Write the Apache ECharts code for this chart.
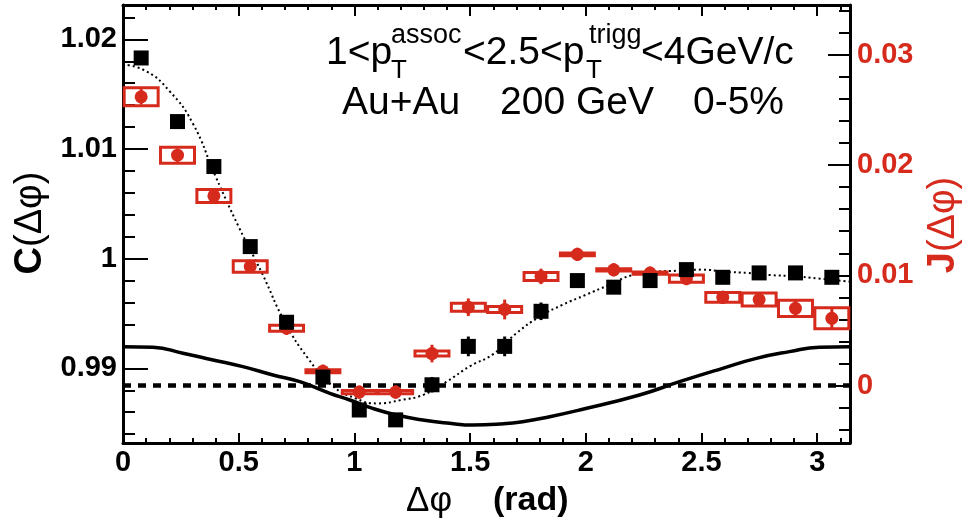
<!DOCTYPE html>
<html><head><meta charset="utf-8">
<script src="https://cdn.jsdelivr.net/npm/echarts@6/dist/echarts.min.js"></script>
<style>html,body{margin:0;padding:0;background:#fff}#c{width:969px;height:523px}</style>
</head><body><div id="c"></div>
<script>
// ---- data ----
const binCenters = [0.0785,0.2356,0.3927,0.5498,0.7069,0.8639,1.0210,1.1781,1.3352,1.4923,1.6493,1.8064,1.9635,2.1206,2.2777,2.4347,2.5918,2.7489,2.9060,3.0631];
const corrC     = [1.0183,1.0125,1.0084,1.0011,0.9942,0.9892,0.9862,0.9853,0.9885,0.9920,0.9920,0.9952,0.9980,0.9974,0.9980,0.9990,0.9983,0.9987,0.9987,0.9983];
const corrCErr  = [0.0006,0.0006,0.0006,0.0006,0.0006,0.0006,0.0006,0.0006,0.0007,0.0009,0.0009,0.0008,0.0006,0.0006,0.0006,0.0006,0.0006,0.0006,0.0006,0.0006];
const jetJ      = [0.0262,0.0209,0.0172,0.0108,0.0052,0.0013,-0.0006,-0.0006,0.0029,0.0071,0.0069,0.0099,0.0119,0.0105,0.0102,0.0097,0.0080,0.0078,0.0070,0.0061];
const jetJStat  = [0.0007,0.0006,0.0006,0.0006,0.0006,0.0006,0.0006,0.0006,0.0008,0.0008,0.0009,0.0007,0.0006,0.0006,0.0006,0.0006,0.0006,0.0006,0.0007,0.0009];
const jetJSys   = [0.00082,0.00073,0.00059,0.00053,0.00027,0.00014,0.00014,0.00014,0.00023,0.00036,0.00027,0.00036,0.00012,0.00010,0.00010,0.00032,0.00045,0.00059,0.00073,0.00095];
const fitX = [0,0.1,0.2,0.3,0.4,0.5,0.6,0.7,0.8,0.9,1.0,1.1,1.2,1.3,1.4,1.5,1.6,1.7,1.8,1.9,2.0,2.1,2.2,2.3,2.4,2.5,2.6,2.7,2.8,2.9,3.0,3.1416];
const fitC = [1.0177,1.0171,1.0153,1.0124,1.0075,1.0029,0.9987,0.9942,0.9909,0.9885,0.9873,0.9868,0.9871,0.9876,0.9888,0.9902,0.9913,0.9932,0.9947,0.9958,0.9967,0.9976,0.9985,0.9988,0.9989,0.9990,0.9988,0.9987,0.9985,0.9984,0.9982,0.9979];
const bgX = [0,0.130,0.259,0.389,0.518,0.648,0.764,0.894,0.980,1.079,1.182,1.295,1.412,1.511,1.628,1.727,1.844,1.973,2.232,2.405,2.591,2.737,2.880,3.010,3.1416];
const bgC = [0.99197,0.99192,0.99137,0.99076,0.99015,0.98939,0.98878,0.98772,0.98711,0.98635,0.98574,0.98529,0.98499,0.98483,0.98492,0.98513,0.98559,0.98620,0.98757,0.98878,0.99000,0.99091,0.99152,0.99192,0.99197];
const zeroX = [0, 3.1416];
const zeroJ = [0, 0];
const xTickLabels = ['0','0.5','1','1.5','2','2.5','3'];
const leftTickLabels = ['0.99','1','1.01','1.02'];
const rightTickLabels = ['0','0.01','0.02','0.03'];

const RED = '#d52a1c';
const FONT = '"Liberation Sans", Arial, sans-serif';

function fmt(list, step) {
  return function (v) {
    const k = Math.round(v / step);
    if (Math.abs(v - k * step) > step * 1e-3) return '';
    const s = list.find(t => Math.abs(parseFloat(t) - v) < step * 1e-3);
    return s === undefined ? '' : s;
  };
}

const chart = echarts.init(document.getElementById('c'), null, {renderer: 'canvas'});
const zip = (a, b, c) => a.map((v, i) => c ? [v, b[i], c[i]] : [v, b[i]]);

function boxItem(params, api) {
  const x = api.value(0), y = api.value(1), e = api.value(2);
  const hw = 0.0734;
  const p1 = api.coord([x - hw, y + e]);
  const p2 = api.coord([x + hw, y - e]);
  return {type: 'rect', shape: {x: p1[0], y: p1[1], width: p2[0] - p1[0], height: p2[1] - p1[1]},
          style: {fill: 'none', stroke: RED, lineWidth: 3}};
}
function errItem(color) {
  return function (params, api) {
    const x = api.value(0), y = api.value(1), e = api.value(2);
    const a = api.coord([x, y - e]), b = api.coord([x, y + e]);
    return {type: 'line', shape: {x1: a[0], y1: a[1], x2: b[0], y2: b[1]}, style: {stroke: color, lineWidth: 3}};
  };
}
function dashItem(params, api) {
  const a = api.coord([api.value(0), api.value(2)]);
  const b = api.coord([api.value(1), api.value(2)]);
  return {type: 'line', shape: {x1: a[0], y1: a[1], x2: b[0], y2: b[1]},
          style: {stroke: '#000', lineWidth: 4.5, lineDash: [8, 7], lineCap: 'butt'}};
}

const axisCommon = {
  axisLine: {show: true, onZero: false, lineStyle: {color: '#000', width: 3}},
  splitLine: {show: false}
};
const txt = (x, y, text, font, extra) => Object.assign({type: 'text', x: x, y: y,
  style: {text: text, font: font, fill: '#000', align: 'left', verticalAlign: 'middle', textAlign: 'left', textVerticalAlign: 'middle'}}, extra || {});

const option = {
  animation: false,
  backgroundColor: '#fff',
  grid: {left: 123, top: 5, width: 727, height: 438, containLabel: false},
  xAxis: [
    Object.assign({type: 'value', min: 0, max: 3.1416, interval: 0.5, position: 'bottom',
      axisTick: {inside: true, length: 10, lineStyle: {color: '#000', width: 2}},
      minorTick: {show: true, splitNumber: 5, length: 5, lineStyle: {color: '#000', width: 2}},
      axisLabel: {margin: 5, color: '#000', fontFamily: FONT, fontWeight: 'bold', fontSize: 29, formatter: fmt(xTickLabels, 0.5)}
    }, axisCommon),
    Object.assign({type: 'value', min: 0, max: 3.1416, interval: 0.5, position: 'top',
      axisTick: {inside: true, length: 11, lineStyle: {color: '#000', width: 2}},
      minorTick: {show: true, splitNumber: 5, length: 5, lineStyle: {color: '#000', width: 2}},
      axisLabel: {show: false}
    }, axisCommon)
  ],
  yAxis: [
    Object.assign({type: 'value', min: 0.98319, max: 1.02313, minInterval: 0.01, maxInterval: 0.01, position: 'left',
      axisTick: {inside: true, length: 25, lineStyle: {color: '#000', width: 2}},
      minorTick: {show: true, splitNumber: 5, length: 12, lineStyle: {color: '#000', width: 2}},
      axisLabel: {margin: 6, color: '#000', fontFamily: FONT, fontWeight: 'bold', fontSize: 29, formatter: fmt(leftTickLabels, 0.01)}
    }, axisCommon),
    Object.assign({type: 'value', min: -0.005218, max: 0.03453, minInterval: 0.01, maxInterval: 0.01, position: 'right',
      axisTick: {inside: true, length: 22, lineStyle: {color: '#000', width: 2}},
      minorTick: {show: true, splitNumber: 5, length: 11, lineStyle: {color: '#000', width: 2}},
      axisLabel: {margin: 7, color: RED, fontFamily: FONT, fontWeight: 'bold', fontSize: 29, formatter: fmt(rightTickLabels, 0.01)}
    }, axisCommon)
  ],
  series: [
    {type: 'line', xAxisIndex: 0, yAxisIndex: 0, data: zip(bgX, bgC), smooth: true, symbol: 'none', silent: true, z: 1,
     lineStyle: {color: '#000', width: 3.5}},
    {type: 'custom', xAxisIndex: 0, yAxisIndex: 1, data: [[zeroX[0], zeroX[1], zeroJ[0]]], renderItem: dashItem, silent: true, z: 1,
     encode: {x: [0, 1], y: 2}},
    {type: 'line', xAxisIndex: 0, yAxisIndex: 0, data: zip(fitX, fitC), smooth: true, symbol: 'none', silent: true, z: 2,
     lineStyle: {color: '#000', width: 2, type: [2, 3]}},
    {type: 'custom', xAxisIndex: 0, yAxisIndex: 1, data: zip(binCenters, jetJ, jetJSys), renderItem: boxItem, silent: true, z: 3,
     encode: {x: 0, y: 1}},
    {type: 'custom', xAxisIndex: 0, yAxisIndex: 1, data: zip(binCenters, jetJ, jetJStat), renderItem: errItem(RED), silent: true, z: 4,
     encode: {x: 0, y: 1}},
    {type: 'scatter', xAxisIndex: 0, yAxisIndex: 1, data: zip(binCenters, jetJ), symbol: 'circle', symbolSize: 13, silent: true, z: 5,
     itemStyle: {color: RED, opacity: 1}},
    {type: 'custom', xAxisIndex: 0, yAxisIndex: 0, data: zip(binCenters, corrC, corrCErr), renderItem: errItem('#000'), silent: true, z: 6,
     encode: {x: 0, y: 1}},
    {type: 'scatter', xAxisIndex: 0, yAxisIndex: 0, data: zip(binCenters, corrC), symbol: 'rect', symbolSize: 15, silent: true, z: 7,
     itemStyle: {color: '#000', opacity: 1}}
  ],
  graphic: [
    txt(326, 53.5, '1<p', '39px ' + FONT),
    txt(391, 71, 'T', '26px ' + FONT),
    txt(391, 35.5, 'assoc', '27px ' + FONT),
    txt(463, 53.5, '<2.5<p', '39px ' + FONT),
    txt(586, 71, 'T', '26px ' + FONT),
    txt(589, 35.5, 'trigg', '27px ' + FONT),
    txt(641, 53.5, '<4GeV/c', '39px ' + FONT),
    txt(342, 103.2, 'Au+Au', '39px ' + FONT),
    txt(500, 103.2, '200 GeV', '39px ' + FONT),
    txt(693, 103.2, '0-5%', '39px ' + FONT),
    txt(406, 501, 'Δφ', '35px ' + FONT),
    txt(493, 501, '(rad)', 'bold 34px ' + FONT),
    {type: 'text', x: 31, y: 223, rotation: Math.PI / 2,
     style: {text: '{b|C}{n|(Δφ)}', rich: {b: {fontFamily: FONT, fontWeight: 'bold', fontSize: 38, fill: '#000', color: '#000'}, n: {fontFamily: FONT, fontSize: 38, fill: '#000', color: '#000'}},
             align: 'center', verticalAlign: 'middle', textAlign: 'center', textVerticalAlign: 'middle'}},
    {type: 'text', x: 944, y: 225, rotation: Math.PI / 2,
     style: {text: '{b|J}{n|(Δφ)}', rich: {b: {fontFamily: FONT, fontWeight: 'bold', fontSize: 38, fill: RED, color: RED}, n: {fontFamily: FONT, fontSize: 38, fill: RED, color: RED}},
             align: 'center', verticalAlign: 'middle', textAlign: 'center', textVerticalAlign: 'middle'}}
  ]
};
chart.setOption(option);
</script>
</body></html>
